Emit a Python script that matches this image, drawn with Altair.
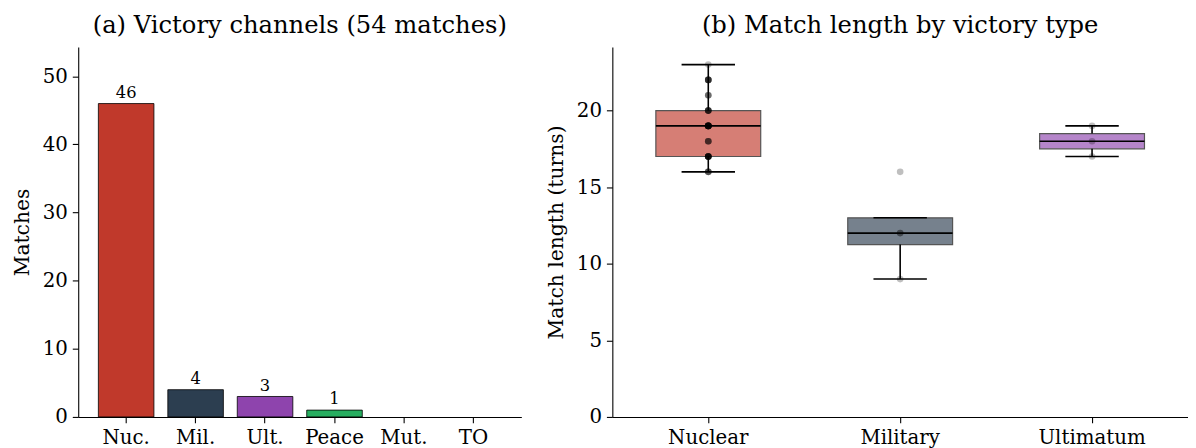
import altair as alt
import pandas as pd
import numpy as np

# ---- Panel (a) data ----
channels = ["Nuc.", "Mil.", "Ult.", "Peace", "Mut.", "TO"]
counts = [46, 4, 3, 1, 0, 0]
bar_colors = ["#c0392b", "#2c3e50", "#8e44ad", "#27ae60", "#7f8c8d", "#95a5a6"]

# ---- Panel (b) data ----
types = ["Nuclear", "Military", "Ultimatum"]
type_colors = ["#c0392b", "#2c3e50", "#8e44ad"]
nuclear_lengths = [16, 16, 16, 16,
                   17, 17, 17, 17, 17, 17, 17, 17, 17, 17,
                   18, 18, 18, 18,
                   19, 19, 19, 19, 19, 19, 19, 19, 19, 19, 19, 19,
                   20, 20, 20, 20, 20, 20,
                   21, 21, 21,
                   22, 22, 22, 22, 22, 22,
                   23]
military_lengths = [9, 12, 12, 16]
ultimatum_lengths = [17, 18, 19]

FONT = "DejaVu Serif"

# ---------- Panel (a) ----------
bar_df = pd.DataFrame({"channel": channels, "count": counts, "color": bar_colors})
xa = alt.X("channel:N", sort=channels,
           scale=alt.Scale(domain=channels, paddingInner=0.2, paddingOuter=0.29),
           axis=alt.Axis(title=None, labelAngle=0))
ya = alt.Y("count:Q", scale=alt.Scale(domain=[0, 54.3], nice=False, zero=True),
           axis=alt.Axis(title="Matches", values=[0, 10, 20, 30, 40, 50]))

bars = alt.Chart(bar_df).transform_filter("datum.count > 0").mark_bar(
    stroke="black", strokeWidth=0.8
).encode(x=xa, y=ya, color=alt.Color("color:N", scale=None))
bar_labels = alt.Chart(bar_df).transform_filter("datum.count > 0").mark_text(
    dy=-11, fontSize=16.5, font=FONT, color="black"
).encode(x=xa, y=ya, text="count:Q")

left = (bars + bar_labels).properties(
    width=448, height=374, title="(a) Victory channels (54 matches)"
)

# ---------- Panel (b) ----------
series = [nuclear_lengths, military_lengths, ultimatum_lengths]
stat_rows = []
pt_rows = []
for t, col, vals in zip(types, type_colors, series):
    arr = np.array(vals, dtype=float)
    q1, med, q3 = np.percentile(arr, [25, 50, 75])
    iqr = q3 - q1
    hi_ok = arr[arr <= q3 + 1.5 * iqr]
    lo_ok = arr[arr >= q1 - 1.5 * iqr]
    whi = q3 if (len(hi_ok) == 0 or hi_ok.max() < q3) else hi_ok.max()
    wlo = q1 if (len(lo_ok) == 0 or lo_ok.min() > q1) else lo_ok.min()
    stat_rows.append({"type": t, "color": col, "q1": q1, "med": med, "q3": q3,
                      "wlo": wlo, "whi": whi})
    for v in vals:
        pt_rows.append({"type": t, "len": v})
stats = pd.DataFrame(stat_rows)
pts = pd.DataFrame(pt_rows)

xb = alt.X("type:N", sort=types,
           scale=alt.Scale(domain=types, paddingInner=0, paddingOuter=0),
           axis=alt.Axis(title=None, labelAngle=0))
yscale = alt.Scale(domain=[0, 24.15], nice=False, zero=True)
yaxis = alt.Axis(title="Match length (turns)", values=[0, 5, 10, 15, 20])

base = alt.Chart(stats)
box = base.mark_bar(size=106, fillOpacity=0.65, stroke="#555555", strokeWidth=1.2).encode(
    x=xb, y=alt.Y("q1:Q", scale=yscale, axis=yaxis), y2="q3:Q",
    color=alt.Color("color:N", scale=None)
)
wl = base.mark_rule(color="black", strokeWidth=1.6).encode(
    x=xb, y=alt.Y("wlo:Q", scale=yscale, axis=yaxis), y2="q1:Q")
wh = base.mark_rule(color="black", strokeWidth=1.6).encode(
    x=xb, y=alt.Y("q3:Q", scale=yscale, axis=yaxis), y2="whi:Q")
cap_lo = base.mark_tick(size=54, thickness=1.6, color="black", opacity=1).encode(
    x=xb, y=alt.Y("wlo:Q", scale=yscale, axis=yaxis))
cap_hi = base.mark_tick(size=54, thickness=1.6, color="black", opacity=1).encode(
    x=xb, y=alt.Y("whi:Q", scale=yscale, axis=yaxis))
median = base.mark_tick(size=106, thickness=1.6, color="black", opacity=1).encode(
    x=xb, y=alt.Y("med:Q", scale=yscale, axis=yaxis))
points = alt.Chart(pts).mark_circle(size=45, color="black", opacity=0.25).encode(
    x=xb, y=alt.Y("len:Q", scale=yscale, axis=yaxis))

right = (box + wl + wh + cap_lo + cap_hi + median + points).properties(
    width=582, height=374, title="(b) Match length by victory type"
)

chart = alt.hconcat(left, right, spacing=25).properties(
    padding={"left": 4, "top": 2, "right": 0, "bottom": 0}
).configure(font=FONT).configure_view(stroke=None).configure_axis(
    grid=False, domainColor="black", tickColor="black", labelColor="black",
    titleColor="black", labelFontSize=20, titleFontSize=20.5, titleFontWeight="normal",
    tickSize=6, labelPadding=5, labelFont=FONT, titleFont=FONT, titlePadding=10,
    domainWidth=1.1, tickWidth=1.1
).configure_title(
    font=FONT, fontSize=24.5, fontWeight="normal", color="black", offset=9
)

chart.save("out.html", embed_options={"renderer": "svg", "actions": False})
